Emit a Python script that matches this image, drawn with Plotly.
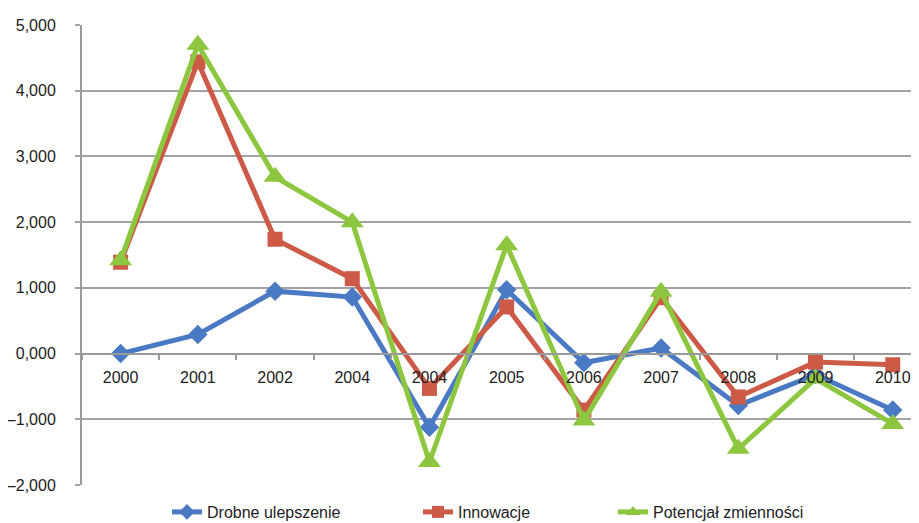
import plotly.graph_objects as go

years = ["2000", "2001", "2002", "2004", "2004", "2005", "2006", "2007", "2008", "2009", "2010"]
drobne = [0.0, 0.29, 0.95, 0.86, -1.12, 0.97, -0.14, 0.085, -0.79, -0.32, -0.86]
innowacje = [1.39, 4.44, 1.74, 1.14, -0.53, 0.71, -0.86, 0.85, -0.66, -0.13, -0.17]
potencjal = [1.42, 4.70, 2.69, 2.0, -1.65, 1.65, -1.02, 0.94, -1.45, -0.38, -1.07]
names = ["Drobne ulepszenie", "Innowacje", "Potencjał zmienności"]
ytick_vals = [-2, -1, 0, 1, 2, 3, 4, 5]
ytick_text = ["–2,000", "–1,000", "0,000", "1,000", "2,000", "3,000", "4,000", "5,000"]

colors = ["#4a7ac4", "#cd5a46", "#8dc63f"]
symbols = ["diamond", "square", "triangle-up"]
sizes = [15, 15, 20]
series = [drobne, innowacje, potencjal]
xs = list(range(len(years)))

FONT = "Liberation Sans, Arial, sans-serif"
FS = 16
OFF = 8  # page body margin
W, H = 919 - OFF, 523 - OFF
ML, MT = 82 - OFF, 25 - OFF
MR = 0
ph = 460
MB = H - MT - ph
pw = W - ML - MR

fig = go.Figure()
legend_ids = ["legend", "legend2", "legend3"]
legend_text_px = [207, 458, 653]
for i in range(3):
    fig.add_trace(go.Scatter(
        x=xs, y=series[i], name=names[i], mode="lines+markers",
        line=dict(color=colors[i], width=5),
        marker=dict(symbol=symbols[i], size=sizes[i], color=colors[i]),
        legend=legend_ids[i], showlegend=True,
    ))

legend_y = (485 - 512) / ph
layout_legends = {}
for i, lid in enumerate(legend_ids):
    lx = legend_text_px[i] - 40 - OFF
    layout_legends[lid] = dict(
        x=(lx - ML) / pw, y=legend_y, xanchor="left", yanchor="middle",
        orientation="h", font=dict(family=FONT, size=FS, color="#222222"),
        bgcolor="rgba(0,0,0,0)", visible=True, itemsizing="constant",
    )

fig.update_layout(
    width=W, height=H,
    showlegend=True,
    margin=dict(l=ML, r=MR, t=MT, b=MB, autoexpand=False),
    paper_bgcolor="white", plot_bgcolor="white",
    font=dict(family=FONT, size=FS, color="#222222"),
    **layout_legends,
    xaxis=dict(
        range=[-0.5, 10.34], automargin=False,
        tickmode="array", tickvals=xs, ticktext=years,
        ticks="outside", ticklen=8, tickcolor="rgba(0,0,0,0)",
        ticklabelstandoff=1,
        showgrid=False, zeroline=False,
        showline=True, linecolor="#9a9a9a", linewidth=2,
        anchor="free", position=(0 - (-2)) / 7,
        minor=dict(tickmode="linear", tick0=0.5, dtick=1, ticks="outside",
                   ticklen=5, tickcolor="#9a9a9a", tickwidth=2, showgrid=False),
        tickfont=dict(family=FONT, size=FS, color="#222222"),
    ),
    yaxis=dict(
        range=[-2, 5], automargin=False,
        tickmode="array", tickvals=ytick_vals, ticktext=ytick_text,
        showgrid=True, gridcolor="#a3a3a3", gridwidth=1.6,
        zeroline=False,
        showline=True, linecolor="#9a9a9a", linewidth=2,
        ticks="outside", ticklen=5, tickcolor="#a3a3a3", tickwidth=1.6,
        ticklabelstandoff=16,
        tickfont=dict(family=FONT, size=FS, color="#222222"),
    ),
)

fig.write_html("out.html")
